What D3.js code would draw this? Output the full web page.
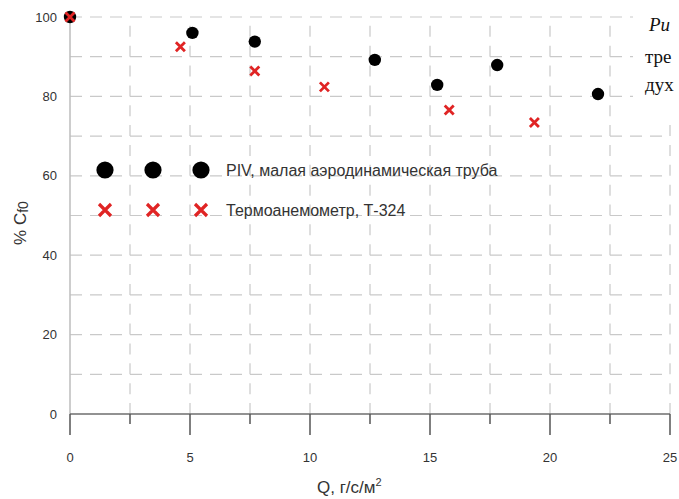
<!DOCTYPE html>
<html>
<head>
<meta charset="utf-8">
<script src="https://cdn.jsdelivr.net/npm/d3@7"></script>
<style>
  body { margin: 0; background: #fff; }
  svg { display: block; font-family: "Liberation Sans", Arial, sans-serif; }
</style>
</head>
<body>
<div id="chart"></div>
<script>
// PIV, small wind tunnel
const pivQ = [0, 5.1, 7.7, 12.7, 15.3, 17.8, 22.0];
const pivCf = [100, 96.0, 93.8, 89.2, 82.9, 87.9, 80.6];
// hot-wire anemometer, T-324
const hwQ = [0, 4.6, 7.7, 10.6, 15.8, 19.35];
const hwCf = [100, 92.5, 86.4, 82.4, 76.6, 73.4];

const xTicks = [0, 5, 10, 15, 20, 25];
const yTicks = [0, 20, 40, 60, 80, 100];
const legendLabels = ["PIV, малая аэродинамическая труба", "Термоанемометр, Т-324"];

const W = 679, H = 499;
const margin = {top: 17, right: 10, bottom: 85, left: 70};
const width = 670 - margin.left,
    height = 414 - margin.top;

const svg = d3.select("#chart").append("svg")
    .attr("width", W)
    .attr("height", H);

const g = svg.append("g")
    .attr("transform", `translate(${margin.left}, ${margin.top})`);

const x = d3.scaleLinear().domain([0, 25]).range([0, width]);
const y = d3.scaleLinear().domain([0, 100]).range([height, 0]);

const gridColor = "#c9c9c9";

// horizontal grid every 10
g.append("g").selectAll("line")
    .data(d3.range(10, 101, 10))
    .enter().append("line")
    .attr("x1", 0).attr("x2", width)
    .attr("y1", d => y(d)).attr("y2", d => y(d))
    .attr("stroke", gridColor)
    .attr("stroke-width", 1.2)
    .attr("stroke-dasharray", "12,8");

// vertical grid every 2.5, drawn bottom-up
g.append("g").selectAll("line")
    .data(d3.range(2.5, 25.1, 2.5))
    .enter().append("line")
    .attr("x1", d => x(d)).attr("x2", d => x(d))
    .attr("y1", height).attr("y2", 0)
    .attr("stroke", gridColor)
    .attr("stroke-width", 1.2)
    .attr("stroke-dasharray", "11,8.85");

// left axis line (light)
g.append("line")
    .attr("x1", 0).attr("x2", 0)
    .attr("y1", 0).attr("y2", height)
    .attr("stroke", "#bdbdbd")
    .attr("stroke-width", 1.5);

// y tick labels
g.append("g").selectAll("text")
    .data(yTicks)
    .enter().append("text")
    .attr("x", -13)
    .attr("y", d => y(d))
    .attr("dy", "0.35em")
    .attr("text-anchor", "end")
    .attr("font-size", 13)
    .attr("fill", "#333")
    .text(d => d);

// x axis
const xAxis = g.append("g")
    .attr("transform", `translate(0, ${height})`);
xAxis.append("line")
    .attr("x1", 0).attr("x2", width)
    .attr("stroke", "#6e6e6e")
    .attr("stroke-width", 1.6);
xAxis.selectAll(".minor")
    .data(d3.range(2.5, 25, 5))
    .enter().append("line")
    .attr("class", "minor")
    .attr("x1", d => x(d)).attr("x2", d => x(d))
    .attr("y1", 0).attr("y2", 10)
    .attr("stroke", "#555")
    .attr("stroke-width", 1.5);
xAxis.selectAll(".major")
    .data(xTicks)
    .enter().append("line")
    .attr("class", "major")
    .attr("x1", d => x(d)).attr("x2", d => x(d))
    .attr("y1", 0).attr("y2", 21)
    .attr("stroke", "#555")
    .attr("stroke-width", 1.5);
xAxis.selectAll("text")
    .data(xTicks)
    .enter().append("text")
    .attr("x", d => x(d))
    .attr("y", 43)
    .attr("dy", "0.35em")
    .attr("text-anchor", "middle")
    .attr("font-size", 13)
    .attr("fill", "#333")
    .text(d => d);

// axis titles
const xt = svg.append("text")
    .attr("x", 317)
    .attr("y", 493)
    .attr("font-size", 17)
    .attr("fill", "#333");
xt.append("tspan").text("Q, г/с/м");
xt.append("tspan").attr("font-size", 11).attr("dy", -7).text("2");

const yt = svg.append("text")
    .attr("transform", "translate(26, 223) rotate(-90)")
    .attr("text-anchor", "middle")
    .attr("font-size", 17)
    .attr("fill", "#333");
yt.append("tspan").text("% C");
yt.append("tspan").attr("font-size", 14).attr("dy", 2).text("f0");

// marks
const red = "#e02424";
function cross(sel, s, sw) {
    sel.append("path")
        .attr("d", `M${-s},${-s}L${s},${s}M${-s},${s}L${s},${-s}`)
        .attr("stroke", red)
        .attr("stroke-width", sw)
        .attr("fill", "none");
}

g.selectAll(".piv")
    .data(pivQ.map((q, i) => ({q, v: pivCf[i]})))
    .enter().append("circle")
    .attr("class", "piv")
    .attr("cx", d => x(d.q))
    .attr("cy", d => y(d.v))
    .attr("r", 6.2)
    .attr("fill", "#000");

g.selectAll(".hw")
    .data(hwQ.map((q, i) => ({q, v: hwCf[i]})))
    .enter().append("g")
    .attr("class", "hw")
    .attr("transform", d => `translate(${x(d.q)}, ${y(d.v)})`)
    .each(function () { cross(d3.select(this), 4.5, 2.8); });

// legend
const legend = svg.append("g");
[105, 153, 201].forEach(cx => {
    legend.append("circle").attr("cx", cx).attr("cy", 170).attr("r", 8.6).attr("fill", "#000");
    cross(legend.append("g").attr("transform", `translate(${cx}, 210)`), 6, 3.2);
});
legend.selectAll("text")
    .data(legendLabels)
    .enter().append("text")
    .attr("x", 226)
    .attr("y", (d, i) => 170 + i * 40)
    .attr("dy", "0.35em")
    .attr("font-size", 16)
    .attr("fill", "#333")
    .text(d => d);

// caption fragment on the right (page crop)
svg.append("rect")
    .attr("x", 633).attr("y", 0)
    .attr("width", 46).attr("height", 124)
    .attr("fill", "#fff");
const cap = svg.append("g")
    .attr("font-family", "'Liberation Serif', 'Times New Roman', serif")
    .attr("font-size", 19)
    .attr("fill", "#111");
cap.append("text").attr("x", 649).attr("y", 31).attr("font-style", "italic").text("Ри");
cap.append("text").attr("x", 645).attr("y", 63).text("тре");
cap.append("text").attr("x", 645).attr("y", 91).text("дух");
</script>
</body>
</html>
